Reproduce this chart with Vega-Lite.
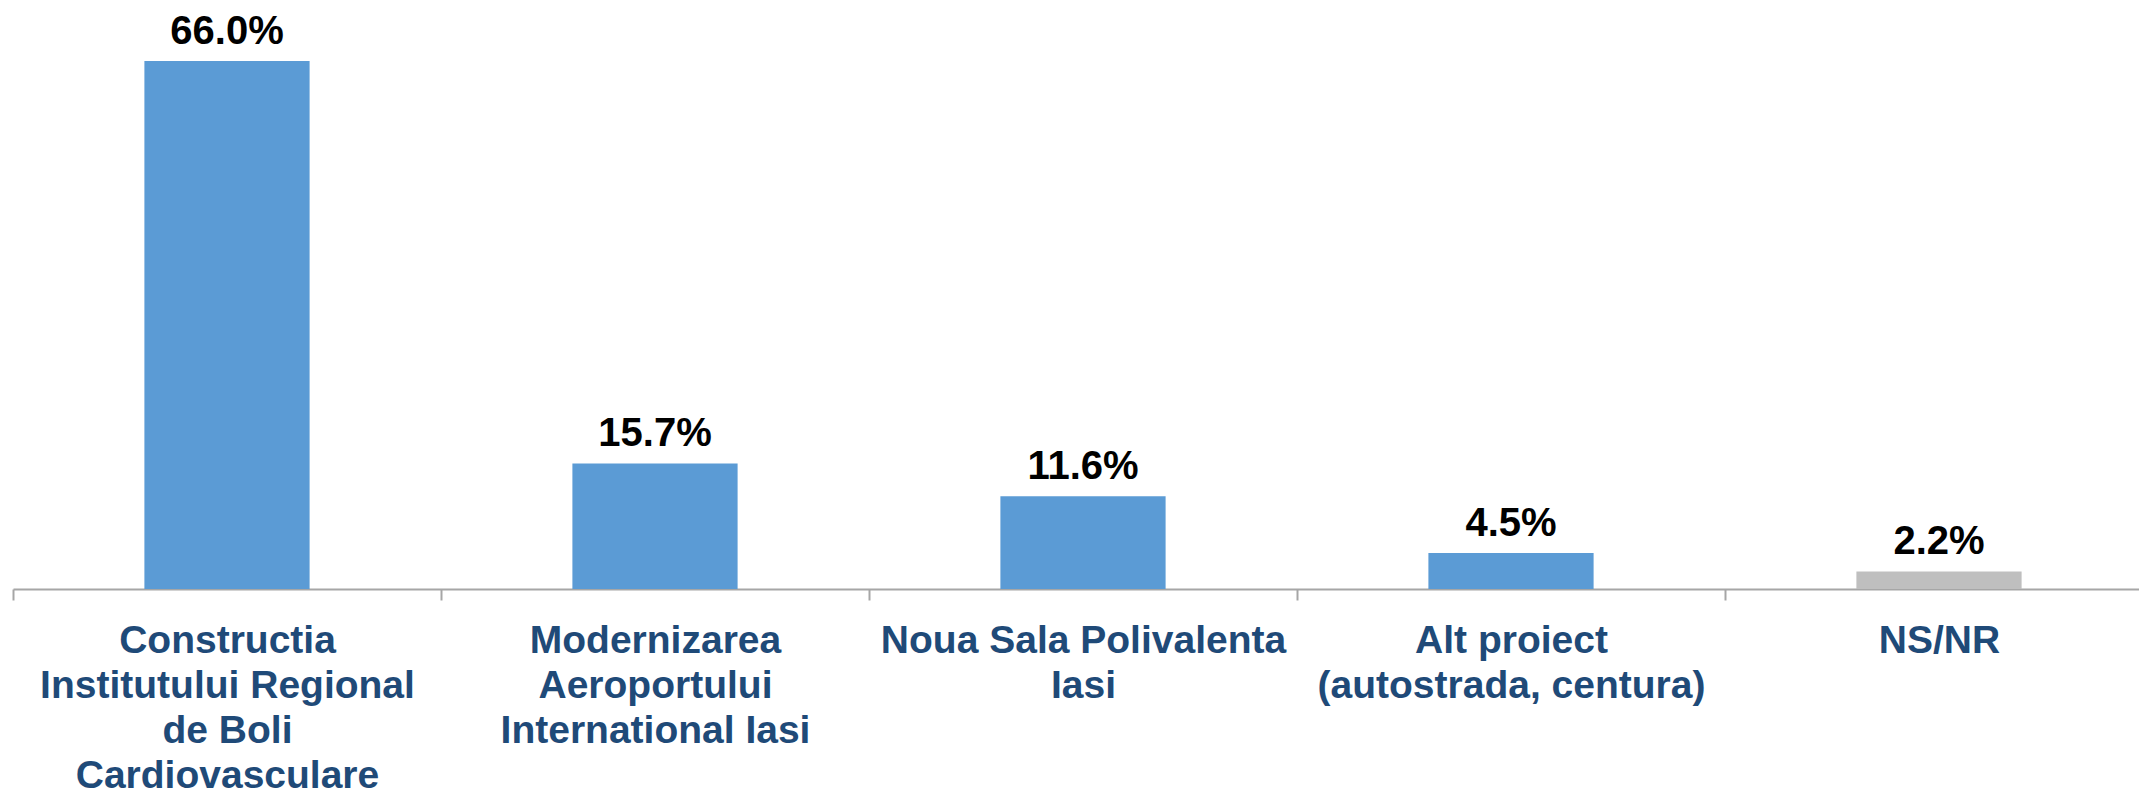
{
  "$schema": "https://vega.github.io/schema/vega-lite/v6.json",
  "width": 2126,
  "height": 560,
  "autosize": {"type": "none"},
  "padding": {"left": 13, "top": 29, "right": 0, "bottom": 201},
  "background": "white",
  "config": {"view": {"stroke": null}},
  "data": {
    "values": [
      {"proiect": "Constructia|Institutului Regional|de Boli|Cardiovasculare", "share": 0.660, "grup": "proiect"},
      {"proiect": "Modernizarea|Aeroportului|International Iasi", "share": 0.157, "grup": "proiect"},
      {"proiect": "Noua Sala Polivalenta|Iasi", "share": 0.116, "grup": "proiect"},
      {"proiect": "Alt proiect|(autostrada, centura)", "share": 0.045, "grup": "proiect"},
      {"proiect": "NS/NR", "share": 0.022, "grup": "nsnr"}
    ]
  },
  "encoding": {
    "x": {
      "field": "proiect",
      "type": "nominal",
      "sort": null,
      "scale": {"range": [0, 2140], "paddingInner": 0, "paddingOuter": 0},
      "axis": {
        "title": null,
        "labelAngle": 0,
        "labelExpr": "split(datum.label, '|')",
        "labelFont": "Liberation Sans",
        "labelFontWeight": "bold",
        "labelFontSize": 39,
        "labelLineHeight": 45,
        "labelColor": "#1F4A78",
        "labelBaseline": "top",
        "labelPadding": 21,
        "labelLimit": 0,
        "tickBand": "extent",
        "tickSize": 11,
        "tickWidth": 2,
        "tickColor": "#A6A6A6",
        "domainColor": "#A6A6A6",
        "domainWidth": 2
      }
    },
    "y": {
      "field": "share",
      "type": "quantitative",
      "scale": {"domain": [0, 0.7], "nice": false},
      "axis": null
    }
  },
  "layer": [
    {
      "mark": {"type": "bar", "width": {"band": 0.386}},
      "encoding": {
        "color": {
          "field": "grup",
          "type": "nominal",
          "scale": {"domain": ["proiect", "nsnr"], "range": ["#5B9BD5", "#BFBFBF"]},
          "legend": null
        }
      }
    },
    {
      "mark": {"type": "text", "baseline": "alphabetic", "dy": -17, "font": "Liberation Sans", "fontWeight": "bold", "fontSize": 40, "color": "#000000"},
      "encoding": {
        "text": {"field": "share", "type": "quantitative", "format": ".1%"}
      }
    }
  ]
}
